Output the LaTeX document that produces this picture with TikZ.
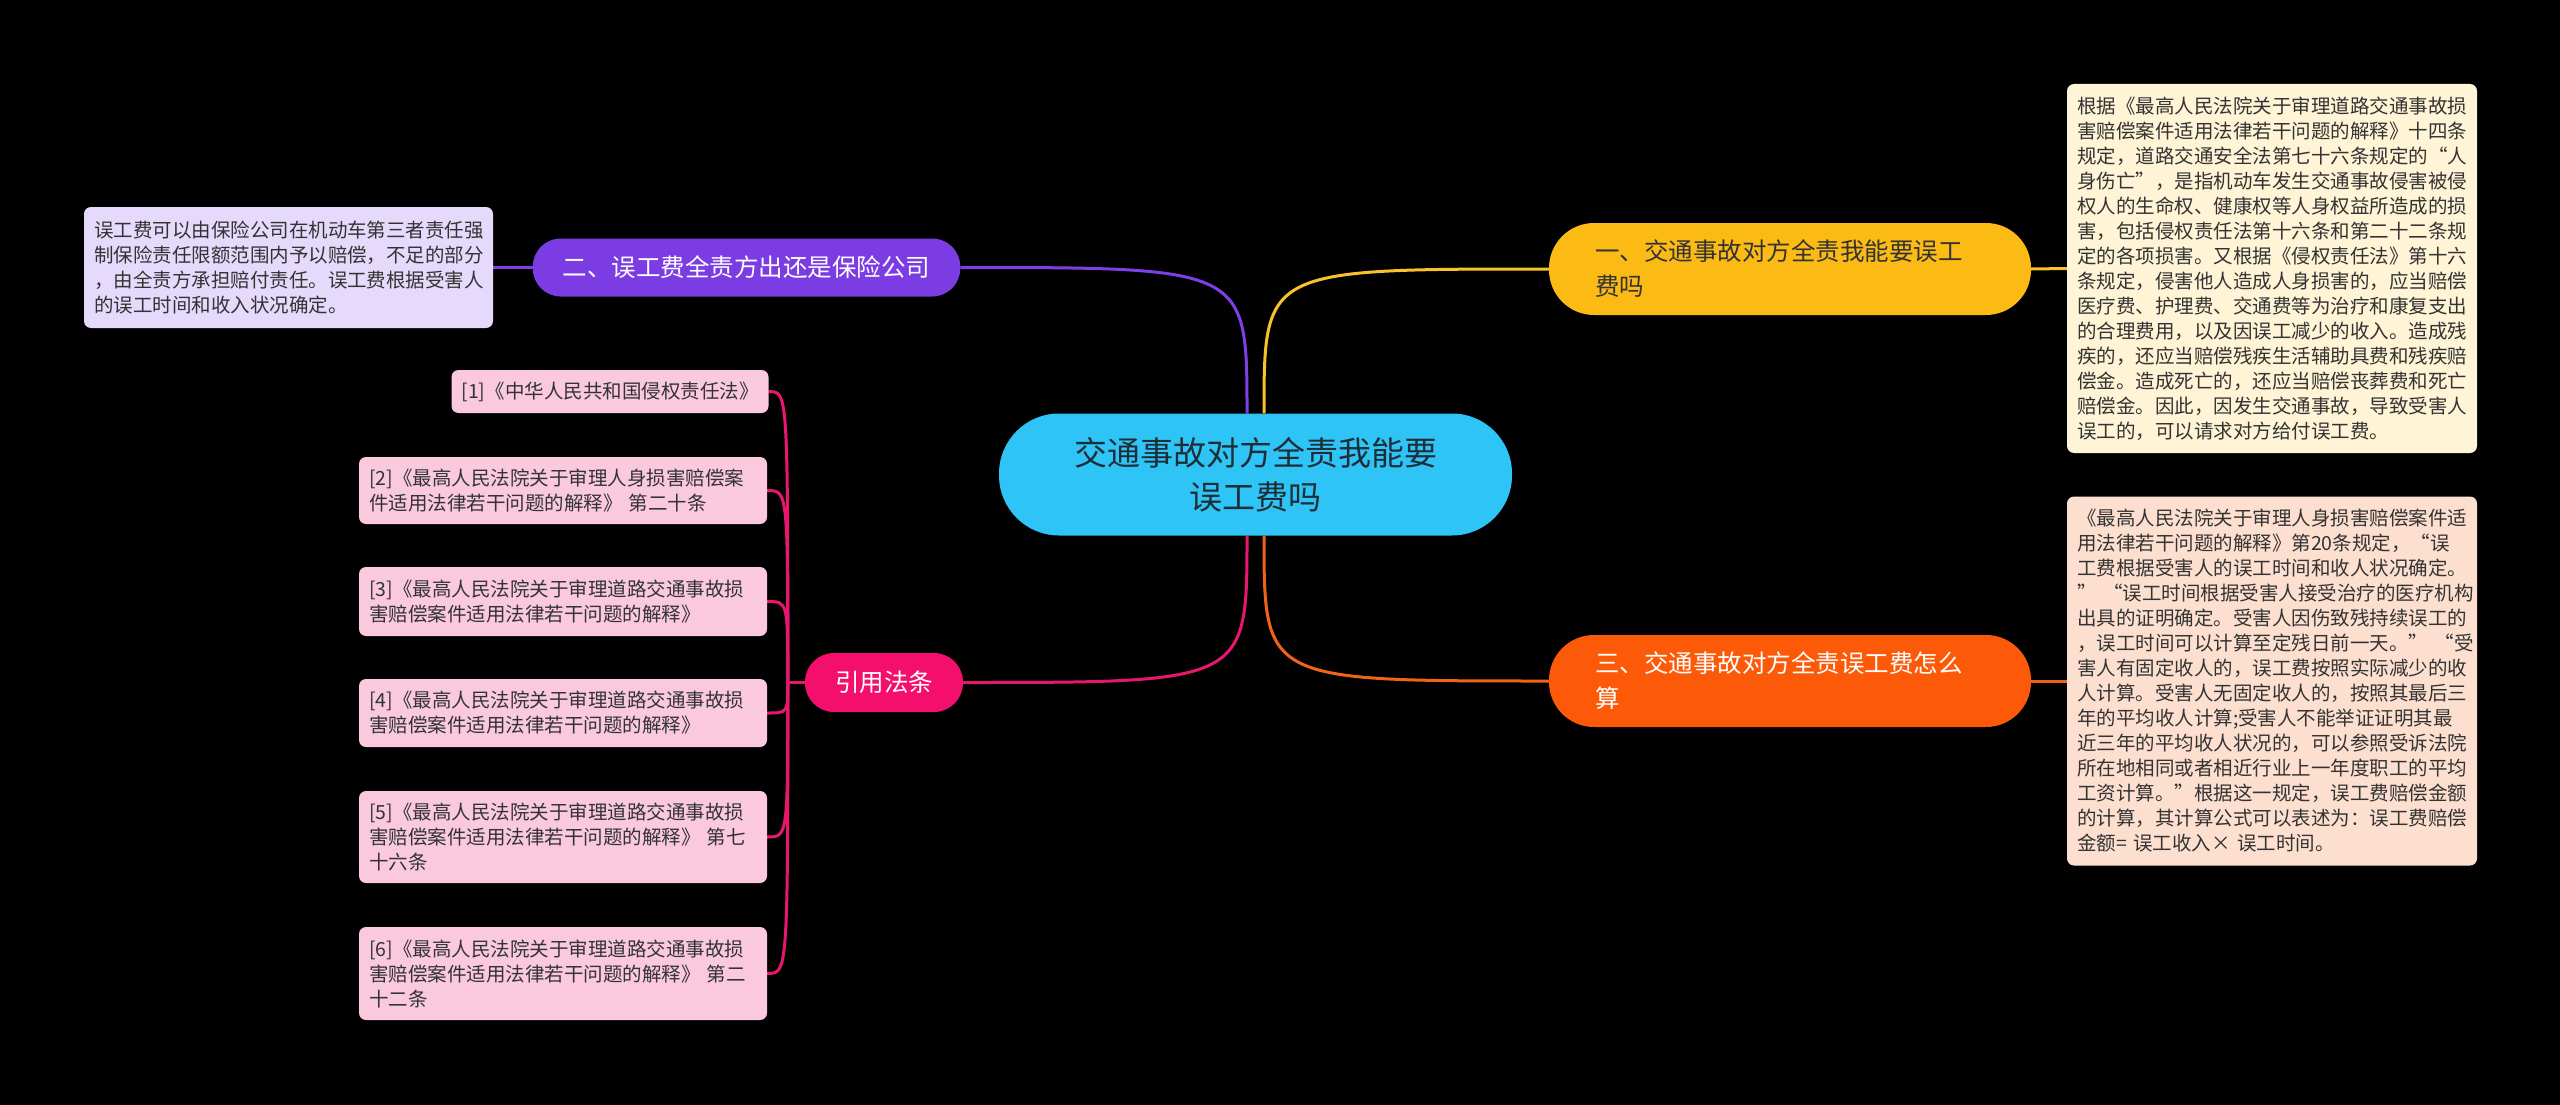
\documentclass[tikz,border=0pt]{standalone}
\usepackage{fontspec}
\newfontfamily\cjk{Noto Sans CJK SC}
\usetikzlibrary{calc,backgrounds}
\definecolor{cyanc}{HTML}{2EC4F5}
\definecolor{yel}{HTML}{FCBA14}
\definecolor{ora}{HTML}{FC5A08}
\definecolor{pur}{HTML}{7B3DE3}
\definecolor{pnk}{HTML}{F50F6D}
\definecolor{yelL}{HTML}{F9C22A}
\definecolor{oraL}{HTML}{F06418}
\definecolor{purL}{HTML}{7E3FE6}
\definecolor{pnkL}{HTML}{E8166F}
\definecolor{boxY}{HTML}{FFF4D6}
\definecolor{boxO}{HTML}{FDDFD0}
\definecolor{boxP}{HTML}{E6DAFC}
\definecolor{boxR}{HTML}{FAC9DE}
\definecolor{txt}{HTML}{333333}
\definecolor{ctxt}{HTML}{1E2E38}
\begin{document}
\begin{tikzpicture}[x=1pt,y=-1pt,
  pill/.style={inner ysep=0pt, font={\cjk\fontsize{24.5}{35}\selectfont}},
  box/.style={rounded corners=7pt, inner xsep=10pt, inner ysep=0pt, align=left, text=txt, font={\cjk\fontsize{19.5}{25}\selectfont}},
  link/.style={line width=3pt}]

% central node
\node[pill, fill=cyanc, rounded corners=60pt, minimum width=513pt, minimum height=122pt, align=center, text=ctxt, font={\cjk\fontsize{33}{44}\selectfont}] (c) at (1255.5,474.5) {交通事故对方全责我能要\\误工费吗};

% main branches
\node[pill, fill=yel, rounded corners=45pt, inner xsep=46pt, text width=390pt, minimum height=92pt, align=left, text=txt] (b1) at (1790,269) {一、交通事故对方全责我能要误工\\费吗};
\node[pill, fill=ora, rounded corners=45pt, inner xsep=46pt, text width=390pt, minimum height=92pt, align=left, text=white] (b3) at (1790,681) {三、交通事故对方全责误工费怎么\\算};
\node[pill, fill=pur, rounded corners=28pt, inner xsep=30pt, minimum height=58pt, text=white] (b2) at (746.5,267.5) {二、误工费全责方出还是保险公司};
\node[pill, fill=pnk, rounded corners=29pt, inner xsep=30pt, minimum height=59pt, text=white] (b4) at (884,682.5) {引用法条};

% detail boxes
\node[box, fill=boxY, text width=390pt, minimum height=369pt] (d1) at (2272,268.5) {根据《最高人民法院关于审理道路交通事故损\\害赔偿案件适用法律若干问题的解释》十四条\\规定，道路交通安全法第七十六条规定的“人\\身伤亡”，是指机动车发生交通事故侵害被侵\\权人的生命权、健康权等人身权益所造成的损\\害，包括侵权责任法第十六条和第二十二条规\\定的各项损害。又根据《侵权责任法》第十六\\条规定，侵害他人造成人身损害的，应当赔偿\\医疗费、护理费、交通费等为治疗和康复支出\\的合理费用，以及因误工减少的收入。造成残\\疾的，还应当赔偿残疾生活辅助具费和残疾赔\\偿金。造成死亡的，还应当赔偿丧葬费和死亡\\赔偿金。因此，因发生交通事故，导致受害人\\误工的，可以请求对方给付误工费。};

\node[box, fill=boxO, text width=390pt, minimum height=369pt] (d3) at (2272,681) {《最高人民法院关于审理人身损害赔偿案件适\\用法律若干问题的解释》第20条规定，“误\\工费根据受害人的误工时间和收人状况确定。\\”~“误工时间根据受害人接受治疗的医疗机构\\出具的证明确定。受害人因伤致残持续误工的\\，误工时间可以计算至定残日前一天。”~“受\\害人有固定收人的，误工费按照实际减少的收\\人计算。受害人无固定收人的，按照其最后三\\年的平均收人计算;受害人不能举证证明其最\\近三年的平均收人状况的，可以参照受诉法院\\所在地相同或者相近行业上一年度职工的平均\\工资计算。”根据这一规定，误工费赔偿金额\\的计算，其计算公式可以表述为：误工费赔偿\\金额=~误工收入×~误工时间。};

\node[box, fill=boxP, text width=389pt, minimum height=121pt] (d2) at (288.5,267.5) {误工费可以由保险公司在机动车第三者责任强\\制保险责任限额范围内予以赔偿，不足的部分\\，由全责方承担赔付责任。误工费根据受害人\\的误工时间和收入状况确定。};

% reference boxes
\node[box, fill=boxR, minimum height=43pt] (r1) at (610,391.5) {[1]《中华人民共和国侵权责任法》};
\node[box, fill=boxR, text width=388pt, minimum height=67pt] (r2) at (563,490.5) {[2]《最高人民法院关于审理人身损害赔偿案\\件适用法律若干问题的解释》~第二十条};
\node[box, fill=boxR, text width=388pt, minimum height=69pt] (r3) at (563,601.5) {[3]《最高人民法院关于审理道路交通事故损\\害赔偿案件适用法律若干问题的解释》};
\node[box, fill=boxR, text width=388pt, minimum height=68pt] (r4) at (563,713) {[4]《最高人民法院关于审理道路交通事故损\\害赔偿案件适用法律若干问题的解释》};
\node[box, fill=boxR, text width=388pt, minimum height=92pt] (r5) at (563,837) {[5]《最高人民法院关于审理道路交通事故损\\害赔偿案件适用法律若干问题的解释》~第七\\十六条};
\node[box, fill=boxR, text width=388pt, minimum height=93pt] (r6) at (563,973.5) {[6]《最高人民法院关于审理道路交通事故损\\害赔偿案件适用法律若干问题的解释》~第二\\十二条};

% connectors
\coordinate (cnr) at ($(c.north)+(8.5,0)$);
\coordinate (cnl) at ($(c.north)+(-8.5,0)$);
\coordinate (csr) at ($(c.south)+(8.5,0)$);
\coordinate (csl) at ($(c.south)+(-8.5,0)$);
\coordinate (rb) at ($(b4.west)+(-17,0)$);

\begin{scope}[on background layer]
\fill[black] (0,0) rectangle (2560,1105);
\draw[link, yelL] (cnr) .. controls (cnr |- b1.west) .. (b1.west);
\draw[link, purL] (cnl) .. controls (cnl |- b2.east) .. (b2.east);
\draw[link, oraL] (csr) .. controls (csr |- b3.west) .. (b3.west);
\draw[link, pnkL] (csl) .. controls (csl |- b4.east) .. (b4.east);
\draw[link, yelL] (b1.east) -- (d1.west);
\draw[link, oraL] (b3.east) -- (d3.west);
\draw[link, purL] (b2.west) -- (d2.east);
\draw[link, pnkL] (b4.west) -- (rb);
\foreach \r in {r1,r2,r3,r4,r5,r6}{
  \draw[link, pnkL] (rb) .. controls (rb |- \r.east) .. (\r.east);
}
\end{scope}
\end{tikzpicture}
\end{document}
